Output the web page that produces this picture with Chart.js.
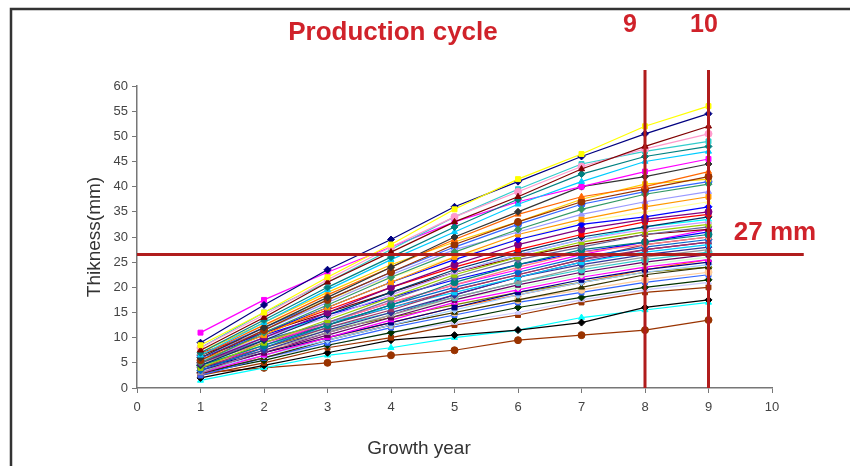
<!DOCTYPE html>
<html>
<head>
<meta charset="utf-8">
<script src="https://cdn.jsdelivr.net/npm/chart.js@4.4.1/dist/chart.umd.min.js"></script>
<style>
  html, body { margin: 0; padding: 0; background: #ffffff; }
  canvas { display: block; }
</style>
</head>
<body>
<canvas id="thickness-chart" width="850" height="466"></canvas>
<script>
(function() {
    'use strict';

    // Growth years on the x axis
    const years = [1, 2, 3, 4, 5, 6, 7, 8, 9];

    // Thickness (mm) per tree
    const tree01 = [8.5, 15, 22, 28.5, 35.5, 41.5, 46.5, 52, 56];
    const tree02 = [9, 16.5, 23.5, 29.5, 36, 41, 46, 50.5, 54.5];
    const tree03 = [7.5, 14, 21, 27, 33, 38, 43.5, 48, 52];
    const tree04 = [8, 14.5, 21.5, 28, 34, 39, 44, 47.5, 50.5];
    const tree05 = [8, 15, 21, 27.5, 34, 39.5, 44.5, 47, 49];
    const tree06 = [7, 13.5, 20, 26, 32, 37.5, 42.5, 46, 48];
    const tree07 = [6.5, 13, 19.5, 25.5, 31, 36.5, 41, 45, 47];
    const tree08 = [11, 17.5, 23, 28, 33, 37, 40, 43, 45.5];
    const tree09 = [6, 12, 18, 24, 30, 35, 40, 42, 44.5];
    const tree10 = [6.5, 12.5, 18.5, 24, 29.5, 34.5, 38, 40, 43];
    const tree11 = [5.5, 11.5, 17.5, 23, 28.5, 33, 37, 39.5, 42];
    const tree12 = [7, 13, 19, 24.5, 29, 33, 37.5, 40.5, 41.5];
    const tree13 = [5, 11, 16.5, 22, 27, 31.5, 35.5, 38.5, 40.5];
    const tree14 = [6, 11.5, 17, 22.5, 27.5, 31, 34.5, 37, 39];
    const tree15 = [5.5, 10.5, 16, 21, 26, 30.5, 33.5, 36, 38];
    const tree16 = [6, 11, 16, 21, 25.5, 29.5, 32.5, 34, 36];
    const tree17 = [7.5, 12.5, 17.5, 22, 26, 29.5, 33, 35, 37];
    const tree18 = [5, 10, 15, 20, 24.5, 28.5, 31.5, 33.5, 35];
    const tree19 = [7, 11, 15.5, 20, 24, 27.5, 30.5, 33, 34.5];
    const tree20 = [4.5, 9.5, 14.5, 19, 23.5, 27, 30, 32, 34];
    const tree21 = [5.5, 10, 14, 18.5, 23, 26.5, 29.5, 31.5, 33];
    const tree22 = [4, 9, 13.5, 18, 22.5, 26, 29, 31, 32.5];
    const tree23 = [5, 9.5, 13, 17.5, 22, 25.5, 28, 30.5, 32];
    const tree24 = [6.5, 11, 15, 19, 23, 26, 28.5, 30.5, 31.5];
    const tree25 = [4.5, 8.5, 12.5, 16.5, 21, 24.5, 27.5, 29, 30.5];
    const tree26 = [5, 9, 13, 17, 20.5, 24, 27, 28.5, 30];
    const tree27 = [3.5, 8, 12.5, 16.5, 20, 23, 26, 28, 29.5];
    const tree28 = [4, 8, 12, 15.5, 19.5, 22.5, 25.5, 27.5, 29];
    const tree29 = [5.5, 9.5, 13, 16, 19, 22, 25, 27, 28.5];
    const tree30 = [4, 7.5, 11.5, 15, 18.5, 22, 24.5, 26.5, 28];
    const tree31 = [3, 7.5, 11, 14.5, 18, 21, 24, 26, 27.5];
    const tree32 = [4.5, 8.5, 12, 15, 18, 21, 23.5, 25.5, 27];
    const tree33 = [3.5, 7, 10.5, 14, 17.5, 20.5, 23, 25, 26.5];
    const tree34 = [5, 8.5, 11.5, 14.5, 17.5, 20, 22.5, 24.5, 26];
    const tree35 = [3, 6.5, 10, 13.5, 17, 19.5, 22, 24, 25.5];
    const tree36 = [4, 7, 10, 13, 16, 19, 21.5, 23.5, 25];
    const tree37 = [3.5, 6.5, 9.5, 12.5, 15.5, 18.5, 21, 23, 24.5];
    const tree38 = [3, 6, 9.5, 12.5, 15, 17.5, 20, 22.5, 24];
    const tree39 = [4.5, 7.5, 10, 12.5, 15, 17.5, 19.5, 21.5, 23];
    const tree40 = [2.5, 6, 9, 12, 14.5, 17, 19, 21, 22.5];
    const tree41 = [3, 5.5, 8.5, 11, 13.5, 16, 18, 20, 21.5];
    const tree42 = [3.5, 6, 8.5, 11, 13, 15, 17.5, 19.5, 21];
    const tree43 = [2.5, 5, 8, 10, 12.5, 14.5, 17, 19, 20];
    const tree44 = [2, 4.5, 7, 9.5, 10.5, 11.5, 13, 16, 17.5];
    const tree45 = [1.5, 4, 6.5, 8, 10, 11.5, 14, 15.5, 17];
    const tree46 = [3, 4, 5, 6.5, 7.5, 9.5, 10.5, 11.5, 13.5];
    const tree47 = [6, 10.5, 14.5, 18, 21.5, 24.5, 27, 29, 31];
    const tree48 = [4, 8.5, 13, 17, 20.5, 23.5, 26.5, 29, 31.5];
    const tree49 = [5.5, 10, 14.5, 19, 23, 26.5, 29.5, 32, 33.5];
    const tree50 = [3.5, 7, 11, 14.5, 18.5, 22, 25, 27.5, 29];
    const tree51 = [4.5, 8, 11.5, 14, 16.5, 19, 21, 23, 24];
    const tree52 = [2.5, 6.5, 10, 13, 16, 18.5, 21, 23.5, 25.5];
    const tree53 = [6.5, 12, 17.5, 23, 28, 32.5, 36.5, 39, 41];
    const tree54 = [5, 9, 12.5, 16, 19.5, 22.5, 25.5, 28.5, 30];

    const trees = [
        tree01, tree02, tree03, tree04, tree05, tree06, tree07, tree08, tree09, tree10,
        tree11, tree12, tree13, tree14, tree15, tree16, tree17, tree18, tree19, tree20,
        tree21, tree22, tree23, tree24, tree25, tree26, tree27, tree28, tree29, tree30,
        tree31, tree32, tree33, tree34, tree35, tree36, tree37, tree38, tree39, tree40,
        tree41, tree42, tree43, tree44, tree45, tree46, tree47, tree48, tree49, tree50,
        tree51, tree52, tree53, tree54
    ];

    // Excel style colours and markers
    const colors = [
        '#ffff00', '#000080', '#800000', '#ff99cc', '#33cccc', '#008080', '#00ccff', '#ff00ff',
        '#333333', '#ff6600', '#993300', '#ffcc00', '#339966', '#9999ff', '#ff9900', '#0000ff',
        '#ffff99', '#800080', '#ff0000', '#003366', '#cc99ff', '#99cc00', '#666699', '#800000',
        '#008080', '#ff8080', '#0066cc', '#993366', '#00ccff', '#333399', '#969696', '#33cccc',
        '#660066', '#ccffcc', '#ff00ff', '#000080', '#99ccff', '#333300', '#ffcc99', '#3366ff',
        '#003300', '#ccccff', '#993300', '#000000', '#00ffff', '#993300', '#0000ff', '#ff00ff',
        '#00ffff', '#800080', '#808000', '#ff6600', '#3366ff', '#993366'
    ];
    const markers = ['rect', 'rectRot', 'triangle', 'circle', 'rect', 'rectRot', 'triangle'];

    const tickFont = { family: '"Liberation Sans Narrow", "Liberation Sans", Arial, sans-serif', size: 13 };
    const red = '#d0222a';
    const darkRed = '#b01c1c';

    // Frame, red guide lines and labels
    const annotate = {
        id: 'annotate',
        beforeDraw(chart) {
            const ctx = chart.ctx;
            ctx.save();
            ctx.fillStyle = '#ffffff';
            ctx.fillRect(0, 0, chart.width, chart.height);
            ctx.strokeStyle = '#333333';
            ctx.lineWidth = 2.5;
            ctx.beginPath();
            ctx.moveTo(11, chart.height + 5);
            ctx.lineTo(11, 9);
            ctx.lineTo(chart.width + 5, 9);
            ctx.stroke();
            ctx.restore();
        },
        afterDatasetsDraw(chart) {
            const ctx = chart.ctx;
            const x = chart.scales.x;
            const y = chart.scales.y;
            ctx.save();
            ctx.strokeStyle = darkRed;
            ctx.lineWidth = 3;
            ctx.beginPath();
            ctx.moveTo(x.getPixelForValue(0), y.getPixelForValue(26.5));
            ctx.lineTo(x.getPixelForValue(10.5), y.getPixelForValue(26.5));
            [8, 9].forEach(v => {
                ctx.moveTo(x.getPixelForValue(v), y.getPixelForValue(63.2));
                ctx.lineTo(x.getPixelForValue(v), y.getPixelForValue(0));
            });
            ctx.stroke();
            ctx.restore();
        },
        afterDraw(chart) {
            const ctx = chart.ctx;
            ctx.save();
            ctx.fillStyle = red;
            ctx.textBaseline = 'middle';
            ctx.textAlign = 'center';
            ctx.font = 'bold 26px "Liberation Sans", Arial, sans-serif';
            ctx.fillText('Production cycle', 393, 33);
            ctx.font = 'bold 25px "Liberation Sans", Arial, sans-serif';
            ctx.fillText('9', 630, 25);
            ctx.fillText('10', 704, 25);
            ctx.font = 'bold 26px "Liberation Sans", Arial, sans-serif';
            ctx.fillText('27 mm', 775, 233);

            // axis titles
            ctx.fillStyle = '#333333';
            ctx.font = '19px "Liberation Sans", Arial, sans-serif';
            ctx.fillText('Growth year', 419, 449);
            ctx.translate(95, 237);
            ctx.rotate(-Math.PI / 2);
            ctx.fillText('Thikness(mm)', 0, 0);
            ctx.restore();
        }
    };

    const datasets = trees.map((values, i) => ({
        label: 'Tree ' + (i + 1),
        data: values.map((v, j) => ({ x: years[j], y: v })),
        borderColor: colors[i % colors.length],
        backgroundColor: colors[i % colors.length],
        borderWidth: 1.2,
        pointStyle: markers[i % markers.length],
        pointRadius: 3.5,
        pointBorderWidth: 1
    }));

    new Chart(document.getElementById('thickness-chart'), {
        type: 'line',
        data: { datasets: datasets },
        options: {
            responsive: false,
            animation: false,
            layout: { padding: { left: 86, right: 78, top: 86, bottom: 0 } },
            plugins: {
                legend: { display: false },
                tooltip: { enabled: false }
            },
            scales: {
                x: {
                    type: 'linear',
                    min: 0,
                    max: 10,
                    ticks: { stepSize: 1, color: '#444444', font: tickFont, padding: 7 },
                    grid: { drawOnChartArea: false, tickLength: 5, color: '#777777' },
                    border: { color: '#777777', width: 1.5 },
                    afterFit: function(scale) { scale.height = 78; }
                },
                y: {
                    min: 0,
                    max: 60,
                    ticks: { stepSize: 5, color: '#444444', font: tickFont, padding: 4 },
                    grid: { drawOnChartArea: false, tickLength: 5, color: '#777777' },
                    border: { color: '#777777', width: 1.5 },
                    afterFit: function(scale) { scale.width = 51; }
                }
            }
        },
        plugins: [annotate]
    });
})();
</script>
</body>
</html>
